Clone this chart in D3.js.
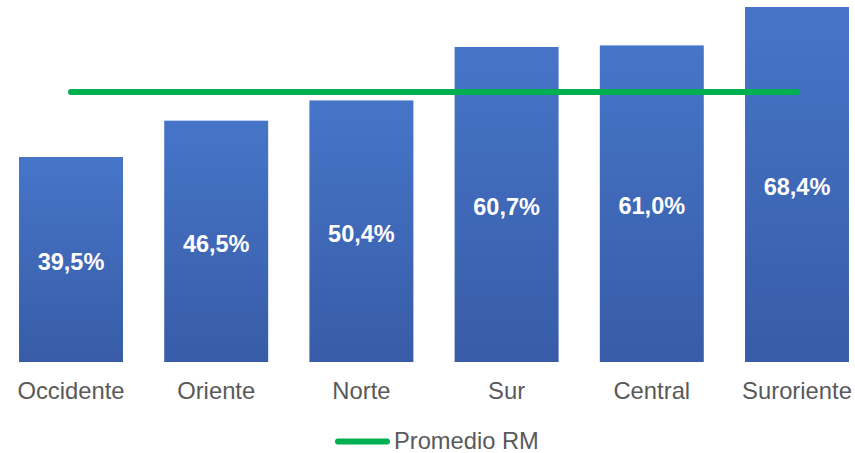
<!DOCTYPE html>
<html>
<head>
<meta charset="utf-8">
<script src="https://cdn.jsdelivr.net/npm/d3@7"></script>
<style>
  body { margin: 0; background: #fff; }
  svg { display: block; font-family: Arial, "Liberation Sans", sans-serif; }
</style>
</head>
<body>
<svg width="855" height="453"></svg>
<script>
// data
var zonas = ["Occidente", "Oriente", "Norte", "Sur", "Central", "Suroriente"];
var valores = [39.5, 46.5, 50.4, 60.7, 61.0, 68.4];
var promedioRM = 52.0;
var leyenda = "Promedio RM";

var svg = d3.select("svg"),
    width = +svg.attr("width"),
    height = +svg.attr("height");

var x = d3.scaleBand()
    .domain(zonas)
    .range([-1.6, 869.6])
    .paddingInner(0.284)
    .paddingOuter(0.142);

var y = d3.scaleLinear()
    .domain([0, 70])
    .range([362, -1.3]);

// gradient for the bars, light on top
var defs = svg.append("defs");
var grad = defs.append("linearGradient")
    .attr("id", "barGrad")
    .attr("x1", 0).attr("y1", 0).attr("x2", 0).attr("y2", 1);
grad.append("stop").attr("offset", "0%").attr("stop-color", "#4675C8");
grad.append("stop").attr("offset", "100%").attr("stop-color", "#385CA7");

var datos = zonas.map(function(z, i) { return {zona: z, valor: valores[i]}; });

svg.append("g")
    .selectAll("rect")
    .data(datos)
    .enter().append("rect")
    .attr("x", function(d) { return x(d.zona); })
    .attr("y", function(d) { return y(d.valor); })
    .attr("width", x.bandwidth())
    .attr("height", function(d) { return y(0) - y(d.valor); })
    .attr("fill", "url(#barGrad)");

// value labels in the middle of each bar
svg.append("g")
    .selectAll("text")
    .data(datos)
    .enter().append("text")
    .attr("x", function(d) { return x(d.zona) + x.bandwidth() / 2; })
    .attr("y", function(d) { return (y(d.valor) + y(0)) / 2 + 10.5; })
    .attr("text-anchor", "middle")
    .attr("fill", "#fff")
    .attr("font-weight", "bold")
    .attr("font-size", "23.5px")
    .text(function(d) { return d.valor.toFixed(1).replace(".", ",") + "%"; });

// category labels
svg.append("g")
    .selectAll("text")
    .data(zonas)
    .enter().append("text")
    .attr("x", function(d) { return x(d) + x.bandwidth() / 2; })
    .attr("y", 399)
    .attr("text-anchor", "middle")
    .attr("fill", "#595959")
    .attr("font-size", "23.8px")
    .text(function(d) { return d; });

// average line, from first to last bar centre
svg.append("line")
    .attr("x1", x(zonas[0]) + x.bandwidth() / 2)
    .attr("x2", x(zonas[zonas.length - 1]) + x.bandwidth() / 2)
    .attr("y1", y(promedioRM))
    .attr("y2", y(promedioRM))
    .attr("stroke", "#00B050")
    .attr("stroke-width", 6)
    .attr("stroke-linecap", "round");

// legend
var leg = svg.append("g");
leg.append("line")
    .attr("x1", 338).attr("x2", 387)
    .attr("y1", 441.5).attr("y2", 441.5)
    .attr("stroke", "#00B050")
    .attr("stroke-width", 6)
    .attr("stroke-linecap", "round");
leg.append("text")
    .attr("x", 394)
    .attr("y", 449)
    .attr("fill", "#595959")
    .attr("font-size", "23.7px")
    .text(leyenda);
</script>
</body>
</html>
